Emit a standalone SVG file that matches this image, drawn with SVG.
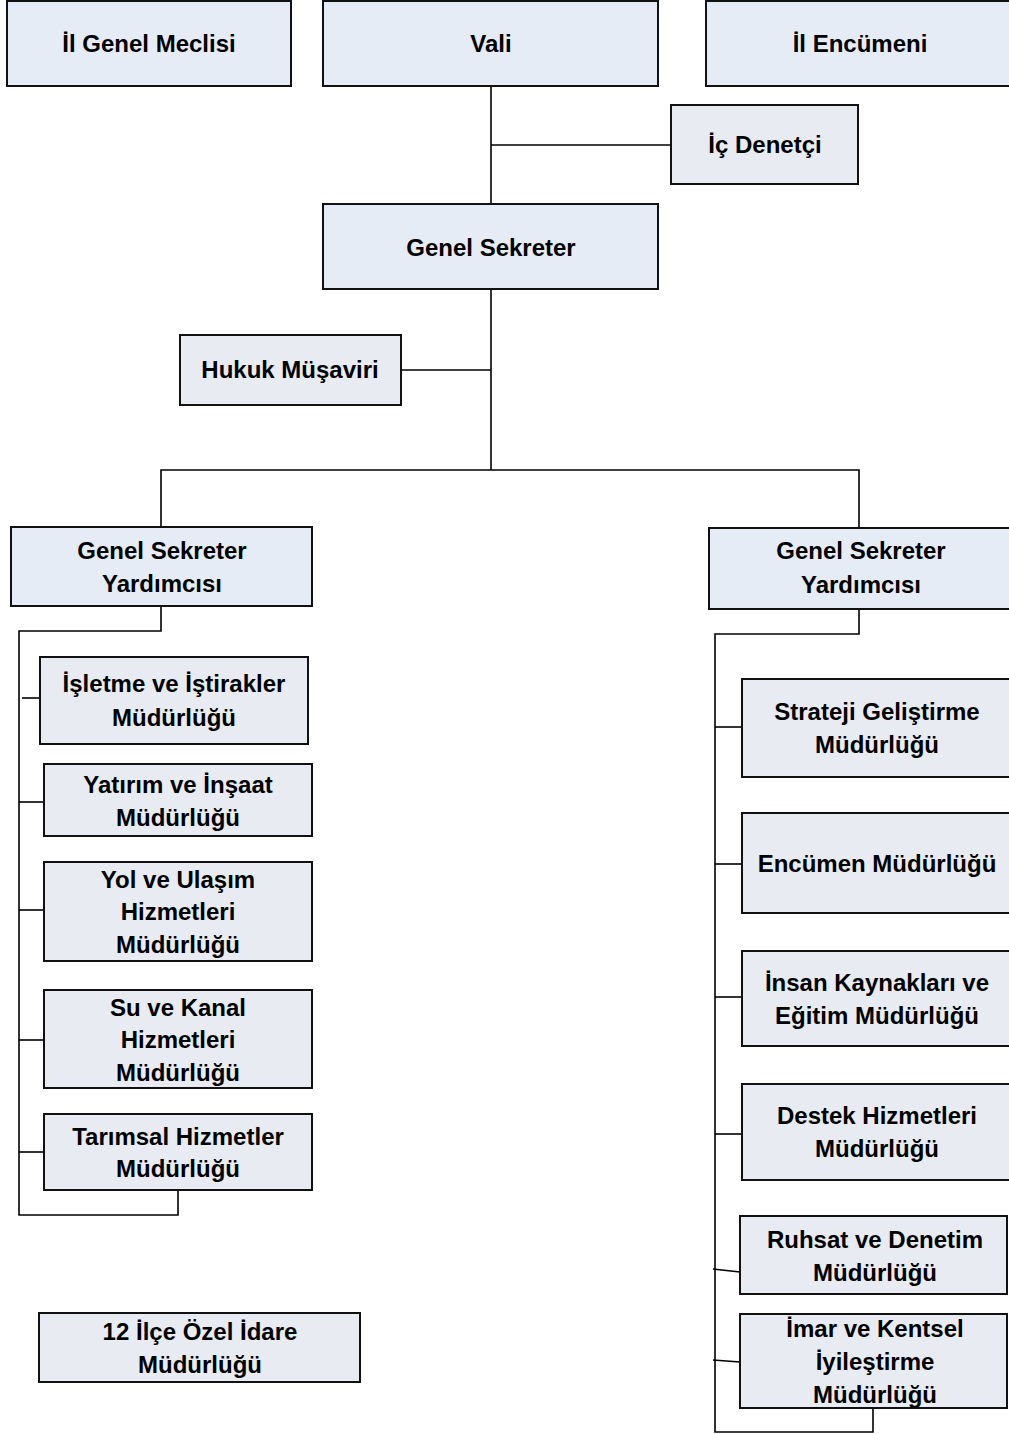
<svg xmlns="http://www.w3.org/2000/svg" width="1009" height="1434" viewBox="0 0 1009 1434">
<style>
.top{fill:#e6ecf6;stroke:#111;stroke-width:2}
.box{fill:#e8ecf2;stroke:#111;stroke-width:2}
text{font-family:"Liberation Sans",Arial,sans-serif;font-weight:bold;font-size:24px;fill:#000;text-anchor:middle}
.c{fill:none;stroke:#000;stroke-width:1.6}
</style>
<rect width="1009" height="1434" fill="#fff"/>
<g id="connectors">
<polyline class="c" points="491,86 491,204"/>
<polyline class="c" points="491,145 671,145"/>
<polyline class="c" points="491,289 491,470"/>
<polyline class="c" points="401,370 491,370"/>
<polyline class="c" points="161,527 161,470 859,470 859,528"/>
<polyline class="c" points="161,606 161,631 19,631 19,1215 178,1215 178,1190"/>
<line class="c" x1="22" y1="698" x2="48" y2="698"/>
<line class="c" x1="19" y1="802" x2="44" y2="802"/>
<line class="c" x1="19" y1="910" x2="44" y2="910"/>
<line class="c" x1="19" y1="1040" x2="44" y2="1040"/>
<line class="c" x1="19" y1="1152" x2="44" y2="1152"/>
<polyline class="c" points="859,609 859,634 715,634 715,1432 873,1432 873,1408"/>
<line class="c" x1="715" y1="727" x2="742" y2="727"/>
<line class="c" x1="715" y1="864" x2="742" y2="864"/>
<line class="c" x1="715" y1="997" x2="742" y2="997"/>
<line class="c" x1="715" y1="1134" x2="742" y2="1134"/>
<line class="c" x1="713" y1="1269" x2="740" y2="1272"/>
<line class="c" x1="713" y1="1360" x2="740" y2="1362"/>
</g>
<g id="il-genel-meclisi"><rect class="top" x="7" y="1" width="284" height="85"/><text x="149" y="52">İl Genel Meclisi</text></g>
<g id="vali"><rect class="top" x="323" y="1" width="335" height="85"/><text x="491" y="52">Vali</text></g>
<g id="il-encumeni"><rect class="top" x="706" y="1" width="310" height="85"/><text x="860" y="52">İl Encümeni</text></g>
<g id="ic-denetci"><rect class="box" x="671" y="105" width="187" height="79"/><text x="765" y="153">İç Denetçi</text></g>
<g id="genel-sekreter"><rect class="top" x="323" y="204" width="335" height="85"/><text x="491" y="256">Genel Sekreter</text></g>
<g id="hukuk-musaviri"><rect class="box" x="180" y="335" width="221" height="70"/><text x="290" y="378">Hukuk Müşaviri</text></g>
<g id="gsy-left"><rect class="top" x="11" y="527" width="301" height="79"/><text x="162" y="559">Genel Sekreter</text><text x="162" y="592">Yardımcısı</text></g>
<g id="gsy-right"><rect class="top" x="709" y="528" width="310" height="81"/><text x="861" y="559">Genel Sekreter</text><text x="861" y="593">Yardımcısı</text></g>
<g id="isletme"><rect class="box" x="40" y="657" width="268" height="87"/><text x="174" y="692">İşletme ve İştirakler</text><text x="174" y="726">Müdürlüğü</text></g>
<g id="yatirim"><rect class="box" x="44" y="764" width="268" height="72"/><text x="178" y="793">Yatırım ve İnşaat</text><text x="178" y="826">Müdürlüğü</text></g>
<g id="yol"><rect class="box" x="44" y="862" width="268" height="99"/><text x="178" y="888">Yol ve Ulaşım</text><text x="178" y="920">Hizmetleri</text><text x="178" y="953">Müdürlüğü</text></g>
<g id="su"><rect class="box" x="44" y="990" width="268" height="98"/><text x="178" y="1016">Su ve Kanal</text><text x="178" y="1048">Hizmetleri</text><text x="178" y="1081">Müdürlüğü</text></g>
<g id="tarimsal"><rect class="box" x="44" y="1114" width="268" height="76"/><text x="178" y="1145">Tarımsal Hizmetler</text><text x="178" y="1177">Müdürlüğü</text></g>
<g id="strateji"><rect class="box" x="742" y="679" width="275" height="98"/><text x="877" y="720">Strateji Geliştirme</text><text x="877" y="753">Müdürlüğü</text></g>
<g id="encumen"><rect class="box" x="742" y="813" width="275" height="100"/><text x="877" y="872">Encümen Müdürlüğü</text></g>
<g id="insan"><rect class="box" x="742" y="951" width="275" height="95"/><text x="877" y="991">İnsan Kaynakları ve</text><text x="877" y="1024">Eğitim Müdürlüğü</text></g>
<g id="destek"><rect class="box" x="742" y="1084" width="275" height="96"/><text x="877" y="1124">Destek Hizmetleri</text><text x="877" y="1157">Müdürlüğü</text></g>
<g id="ruhsat"><rect class="box" x="740" y="1216" width="267" height="78"/><text x="875" y="1248">Ruhsat ve Denetim</text><text x="875" y="1281">Müdürlüğü</text></g>
<g id="imar"><rect class="box" x="740" y="1314" width="267" height="94"/><text x="875" y="1337">İmar ve Kentsel</text><text x="875" y="1370">İyileştirme</text><text x="875" y="1403">Müdürlüğü</text></g>
<g id="ilce"><rect class="box" x="39" y="1313" width="321" height="69"/><text x="200" y="1340">12 İlçe Özel İdare</text><text x="200" y="1373">Müdürlüğü</text></g>
</svg>
